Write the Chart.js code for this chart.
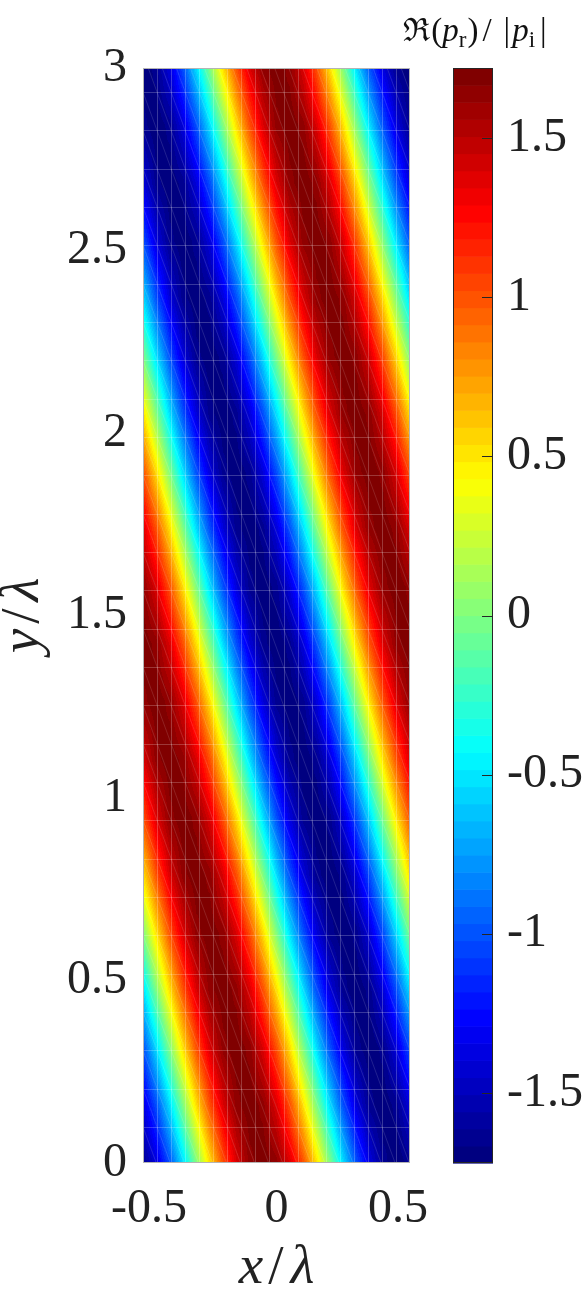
<!DOCTYPE html>
<html>
<head>
<meta charset="utf-8">
<script src="https://cdn.jsdelivr.net/npm/chart.js@4.4.1/dist/chart.umd.min.js"></script>
<style>
  body { margin: 0; background: #fff; }
  #wrap { position: relative; width: 584px; height: 1298px; }
  #field { position: absolute; left: 0; top: 0; }
  #cbar { position: absolute; left: 400px; top: 0; }
</style>
</head>
<body>
<div id="wrap">
  <canvas id="field" width="450" height="1298"></canvas>
  <canvas id="cbar" width="184" height="1298"></canvas>
</div>
<script>
// grid nodes (x/lambda, y/lambda)
const xNodes = [-0.5, -0.45, -0.4, -0.35, -0.3, -0.25, -0.2, -0.15, -0.1, -0.05, 0,
                0.05, 0.1, 0.15, 0.2, 0.25, 0.3, 0.35, 0.4, 0.45, 0.5];
const yNodes = [3, 2.842, 2.684, 2.526, 2.368, 2.211, 2.053, 1.895, 1.737, 1.579,
                1.421, 1.263, 1.105, 0.947, 0.789, 0.632, 0.474, 0.316, 0.158, 0];

// Re(p_r)/|p_i| read at each node, one row per yNodes entry (top row first)
const pr = [
  [-1.72,-1.64,-1.39,-1.01,-0.53,0,0.53,1.01,1.39,1.64,1.72,1.64,1.39,1.01,0.53,0,-0.53,-1.01,-1.39,-1.64,-1.72],
  [-1.64,-1.72,-1.64,-1.39,-1.01,-0.53,0,0.53,1.01,1.39,1.64,1.72,1.64,1.39,1.01,0.53,0,-0.53,-1.01,-1.39,-1.64],
  [-1.39,-1.64,-1.72,-1.64,-1.39,-1.01,-0.53,0,0.53,1.01,1.39,1.64,1.72,1.64,1.39,1.01,0.53,0,-0.53,-1.01,-1.39],
  [-1.01,-1.39,-1.64,-1.72,-1.64,-1.39,-1.01,-0.53,0,0.53,1.01,1.39,1.64,1.72,1.64,1.39,1.01,0.53,0,-0.53,-1.01],
  [-0.53,-1.01,-1.39,-1.64,-1.72,-1.64,-1.39,-1.01,-0.53,0,0.53,1.01,1.39,1.64,1.72,1.64,1.39,1.01,0.53,0,-0.53],
  [0,-0.53,-1.01,-1.39,-1.64,-1.72,-1.64,-1.39,-1.01,-0.53,0,0.53,1.01,1.39,1.64,1.72,1.64,1.39,1.01,0.53,0],
  [0.53,0,-0.53,-1.01,-1.39,-1.64,-1.72,-1.64,-1.39,-1.01,-0.53,0,0.53,1.01,1.39,1.64,1.72,1.64,1.39,1.01,0.53],
  [1.01,0.53,0,-0.53,-1.01,-1.39,-1.64,-1.72,-1.64,-1.39,-1.01,-0.53,0,0.53,1.01,1.39,1.64,1.72,1.64,1.39,1.01],
  [1.39,1.01,0.53,0,-0.53,-1.01,-1.39,-1.64,-1.72,-1.64,-1.39,-1.01,-0.53,0,0.53,1.01,1.39,1.64,1.72,1.64,1.39],
  [1.64,1.39,1.01,0.53,0,-0.53,-1.01,-1.39,-1.64,-1.72,-1.64,-1.39,-1.01,-0.53,0,0.53,1.01,1.39,1.64,1.72,1.64],
  [1.72,1.64,1.39,1.01,0.53,0,-0.53,-1.01,-1.39,-1.64,-1.72,-1.64,-1.39,-1.01,-0.53,0,0.53,1.01,1.39,1.64,1.72],
  [1.64,1.72,1.64,1.39,1.01,0.53,0,-0.53,-1.01,-1.39,-1.64,-1.72,-1.64,-1.39,-1.01,-0.53,0,0.53,1.01,1.39,1.64],
  [1.39,1.64,1.72,1.64,1.39,1.01,0.53,0,-0.53,-1.01,-1.39,-1.64,-1.72,-1.64,-1.39,-1.01,-0.53,0,0.53,1.01,1.39],
  [1.01,1.39,1.64,1.72,1.64,1.39,1.01,0.53,0,-0.53,-1.01,-1.39,-1.64,-1.72,-1.64,-1.39,-1.01,-0.53,0,0.53,1.01],
  [0.53,1.01,1.39,1.64,1.72,1.64,1.39,1.01,0.53,0,-0.53,-1.01,-1.39,-1.64,-1.72,-1.64,-1.39,-1.01,-0.53,0,0.53],
  [0,0.53,1.01,1.39,1.64,1.72,1.64,1.39,1.01,0.53,0,-0.53,-1.01,-1.39,-1.64,-1.72,-1.64,-1.39,-1.01,-0.53,0],
  [-0.53,0,0.53,1.01,1.39,1.64,1.72,1.64,1.39,1.01,0.53,0,-0.53,-1.01,-1.39,-1.64,-1.72,-1.64,-1.39,-1.01,-0.53],
  [-1.01,-0.53,0,0.53,1.01,1.39,1.64,1.72,1.64,1.39,1.01,0.53,0,-0.53,-1.01,-1.39,-1.64,-1.72,-1.64,-1.39,-1.01],
  [-1.39,-1.01,-0.53,0,0.53,1.01,1.39,1.64,1.72,1.64,1.39,1.01,0.53,0,-0.53,-1.01,-1.39,-1.64,-1.72,-1.64,-1.39],
  [-1.64,-1.39,-1.01,-0.53,0,0.53,1.01,1.39,1.64,1.72,1.64,1.39,1.01,0.53,0,-0.53,-1.01,-1.39,-1.64,-1.72,-1.64]
];

// tick labels
const xTicks = [-0.5, 0, 0.5];
const yTicks = [0, 0.5, 1, 1.5, 2, 2.5, 3];
const cbTicks = [-1.5, -1, -0.5, 0, 0.5, 1, 1.5];
const cMin = -1.72, cMax = 1.72;

const serif = '"Liberation Serif", "Times New Roman", serif';
const nColors = 64;
// faint FE mesh drawn over the field
const meshCols = 19, meshTop = 2.934, meshDy = 0.105;

// jet colormap, 64 steps
function jet(t) {
  const c = v => Math.round(255 * Math.max(0, Math.min(1, v)));
  return [c(1.5 - Math.abs(4 * t - 3)), c(1.5 - Math.abs(4 * t - 2)), c(1.5 - Math.abs(4 * t - 1))];
}
const cmap = [];
for (let i = 0; i < nColors; i++) cmap.push(jet(i / (nColors - 1)));

function colorOf(v) {
  let i = Math.floor((v - cMin) / (cMax - cMin) * nColors);
  return cmap[Math.max(0, Math.min(nColors - 1, i))];
}

// bilinear lookup in the node grid
function sample(x, y) {
  let i = 0;
  while (i < xNodes.length - 2 && x > xNodes[i + 1]) i++;
  let j = 0;
  while (j < yNodes.length - 2 && y < yNodes[j + 1]) j++;
  const fx = Math.max(0, Math.min(1, (x - xNodes[i]) / (xNodes[i + 1] - xNodes[i])));
  const fy = Math.max(0, Math.min(1, (y - yNodes[j]) / (yNodes[j + 1] - yNodes[j])));
  const top = pr[j][i] * (1 - fx) + pr[j][i + 1] * fx;
  const bot = pr[j + 1][i] * (1 - fx) + pr[j + 1][i + 1] * fx;
  return top * (1 - fy) + bot * fy;
}

// draws glyph runs centred on (cx, base); used for the LaTeX-like labels
function drawRun(ctx, parts, cx, base) {
  let total = 0;
  parts.forEach(p => { ctx.font = p.f; p.w = ctx.measureText(p.t).width; total += p.w + (p.gap || 0); });
  let x = cx - total / 2;
  ctx.textAlign = 'left';
  ctx.textBaseline = 'alphabetic';
  parts.forEach(p => {
    ctx.font = p.f;
    ctx.fillText(p.t, x, base + (p.dy || 0));
    x += p.w + (p.gap || 0);
  });
}

const fieldPlugin = {
  id: 'fieldImage',
  beforeDatasetsDraw(chart) {
    const { ctx, chartArea: a, scales: { x, y } } = chart;
    const w = Math.round(a.right - a.left), h = Math.round(a.bottom - a.top);
    const off = document.createElement('canvas');
    off.width = w; off.height = h;
    const octx = off.getContext('2d');
    const img = octx.createImageData(w, h);
    const xs = [];
    for (let px = 0; px < w; px++) xs.push(x.getValueForPixel(a.left + px + 0.5));
    for (let py = 0; py < h; py++) {
      const yv = y.getValueForPixel(a.top + py + 0.5);
      for (let px = 0; px < w; px++) {
        const col = colorOf(sample(xs[px], yv));
        const k = (py * w + px) * 4;
        img.data[k] = col[0]; img.data[k + 1] = col[1]; img.data[k + 2] = col[2]; img.data[k + 3] = 255;
      }
    }
    octx.putImageData(img, 0, 0);
    ctx.drawImage(off, a.left, a.top);

    // mesh
    ctx.save();
    ctx.beginPath();
    ctx.rect(a.left, a.top, w, h);
    ctx.clip();
    ctx.lineWidth = 1;
    ctx.strokeStyle = 'rgba(255,255,255,0.22)';
    ctx.beginPath();
    for (let k = 1; k < meshCols; k++) {
      const px = Math.round(x.getPixelForValue(-0.5 + k / meshCols)) + 0.5;
      ctx.moveTo(px, a.top); ctx.lineTo(px, a.bottom);
    }
    for (let yv = meshTop; yv > 0; yv -= meshDy) {
      const py = Math.round(y.getPixelForValue(yv)) + 0.5;
      ctx.moveTo(a.left, py); ctx.lineTo(a.right, py);
    }
    ctx.stroke();
    ctx.strokeStyle = 'rgba(255,255,255,0.13)';
    ctx.beginPath();
    for (let yv = meshTop + meshDy; yv > -meshDy; yv -= meshDy) {
      const y0 = y.getPixelForValue(yv), y1 = y.getPixelForValue(yv - meshDy);
      for (let k = 0; k < meshCols; k++) {
        ctx.moveTo(x.getPixelForValue(-0.5 + k / meshCols), y0);
        ctx.lineTo(x.getPixelForValue(-0.5 + (k + 1) / meshCols), y1);
      }
    }
    ctx.stroke();
    ctx.restore();

    ctx.save();
    ctx.strokeStyle = '#b4b4b4';
    ctx.lineWidth = 1;
    ctx.strokeRect(a.left + 0.5, a.top + 0.5, w - 1, h - 1);
    ctx.restore();
  },
  afterDraw(chart) {
    const { ctx, chartArea: a } = chart;
    const it = 'italic 55px ' + serif, up = '55px ' + serif;
    const label = () => [
      { t: 'x', f: it, gap: 5 }, { t: '/', f: up, gap: 7 }, { t: 'λ', f: it }
    ];
    ctx.save();
    ctx.fillStyle = '#222';
    drawRun(ctx, label(), (a.left + a.right) / 2, 1283);
    ctx.translate(38, (a.top + a.bottom) / 2);
    ctx.rotate(-Math.PI / 2);
    const yl = label();
    yl[0].t = 'y';
    drawRun(ctx, yl, 0, 0);
    ctx.restore();
  }
};

// colorbar bands, inward ticks, title
const cbarPlugin = {
  id: 'cbarImage',
  beforeDatasetsDraw(chart) {
    const { ctx, chartArea: a, scales: { y } } = chart;
    ctx.save();
    for (let i = 0; i < nColors; i++) {
      const v0 = cMin + i * (cMax - cMin) / nColors;
      const v1 = cMin + (i + 1) * (cMax - cMin) / nColors;
      const y0 = y.getPixelForValue(v1), y1 = y.getPixelForValue(v0);
      const c = cmap[i];
      ctx.fillStyle = `rgb(${c[0]},${c[1]},${c[2]})`;
      ctx.fillRect(a.left, y0, a.right - a.left, y1 - y0 + 0.6);
    }
    ctx.strokeStyle = '#262626';
    ctx.lineWidth = 1;
    ctx.strokeRect(a.left + 0.5, a.top + 0.5, a.right - a.left - 1, a.bottom - a.top - 1);
    ctx.beginPath();
    cbTicks.forEach(v => {
      const py = Math.round(y.getPixelForValue(v)) + 0.5;
      ctx.moveTo(a.right - 11, py);
      ctx.lineTo(a.right, py);
    });
    ctx.stroke();

    // Re(p_r)/|p_i|
    const f = '33px ' + serif, fi = 'italic 33px ' + serif, fs = '23px ' + serif;
    ctx.fillStyle = '#111';
    drawRun(ctx, [
      { t: 'ℜ', f: '32px "DejaVu Serif", serif', gap: 1 },
      { t: '(', f: f },
      { t: 'p', f: fi },
      { t: 'r', f: fs, dy: 6, gap: 1 },
      { t: ')', f: f, gap: 4 },
      { t: '/', f: f, gap: 12 },
      { t: '|', f: f, gap: 2 },
      { t: 'p', f: fi },
      { t: 'i', f: fs, dy: 6, gap: 5 },
      { t: '|', f: f }
    ], (a.left + a.right) / 2 + 2, 41);
    ctx.restore();
  }
};

const tickFont = { family: serif, size: 48 };

new Chart(document.getElementById('field'), {
  type: 'scatter',
  data: { datasets: [{ data: [], pointRadius: 0 }] },
  options: {
    responsive: false,
    devicePixelRatio: 1,
    animation: false,
    events: [],
    layout: { padding: { top: 68, right: 40, left: 0, bottom: 0 } },
    plugins: { legend: { display: false }, tooltip: { enabled: false } },
    scales: {
      x: {
        type: 'linear', min: -0.5, max: 0.5,
        afterBuildTicks: s => { s.ticks = xTicks.map(v => ({ value: v })); },
        afterFit: s => { s.height = 135; s.paddingLeft = 0; s.paddingRight = 0; },
        // edge labels sit slightly inside the axis ends, as in the original
        ticks: { font: tickFont, color: '#222', padding: 18, maxRotation: 0, autoSkip: false,
                 callback: v => v === -0.5 ? ' -0.5' : v === 0.5 ? '0.5  ' : String(v) },
        grid: { display: false, drawTicks: false },
        border: { display: false }
      },
      y: {
        type: 'linear', min: 0, max: 3,
        afterBuildTicks: s => { s.ticks = yTicks.map(v => ({ value: v })); },
        afterFit: s => { s.width = 143; s.paddingTop = 0; s.paddingBottom = 0; },
        ticks: { font: tickFont, color: '#222', padding: 16, autoSkip: false,
                 callback: v => String(v) },
        grid: { display: false, drawTicks: false },
        border: { display: false }
      }
    }
  },
  plugins: [fieldPlugin]
});

new Chart(document.getElementById('cbar'), {
  type: 'scatter',
  data: { datasets: [{ data: [], pointRadius: 0 }] },
  options: {
    responsive: false,
    devicePixelRatio: 1,
    animation: false,
    events: [],
    layout: { padding: { top: 68, right: 0, left: 53, bottom: 135 } },
    plugins: { legend: { display: false }, tooltip: { enabled: false } },
    scales: {
      x: { type: 'linear', min: 0, max: 1, display: false },
      y: {
        type: 'linear', position: 'right', min: cMin, max: cMax,
        afterBuildTicks: s => { s.ticks = cbTicks.map(v => ({ value: v })); },
        afterFit: s => { s.width = 91; s.paddingTop = 0; s.paddingBottom = 0; },
        ticks: { font: tickFont, color: '#222', padding: 14, autoSkip: false,
                 callback: v => String(v) },
        grid: { display: false, drawTicks: false },
        border: { display: false }
      }
    }
  },
  plugins: [cbarPlugin]
});
</script>
</body>
</html>
